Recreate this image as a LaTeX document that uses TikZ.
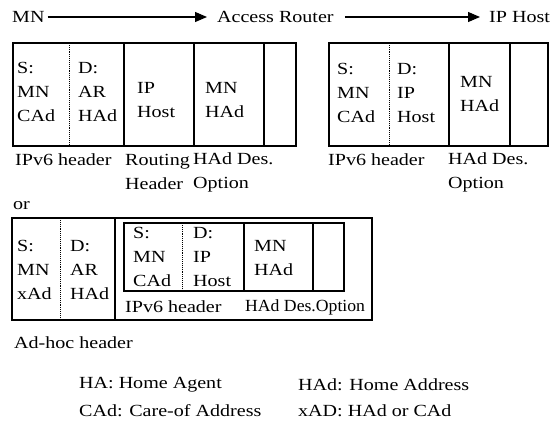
\documentclass[tikz,border=0pt]{standalone}
\usepackage{fontspec}
\setmainfont[FakeStretch=1.18]{Liberation Serif}
\newfontfamily\narrowfont[FakeStretch=1.04]{Liberation Serif}
\usetikzlibrary{arrows.meta, positioning}

\begin{document}
\begin{tikzpicture}[x=1pt, y=-1pt]
        \tikzset{textnode/.style={anchor=west,
                inner sep=0pt,
                align=left,
                font=\fontsize{17}{24}\selectfont
        }}
        \tikzset{frame/.style={line width=1.6pt}}
        \tikzset{dotdiv/.style={line width=0.9pt, densely dotted}}
        \tikzset{connector/.style={line width=1.1pt, -{Triangle[length=12pt,width=10pt]}}}
        \useasboundingbox (0,0) rectangle (551,422);

        % path of the packet
        \node[textnode] (mn) at (12,17) {MN};
        \node[textnode] (ar) at (217,17) {Access Router};
        \node[textnode] (iph) at (489,17) {IP Host};
        \draw[connector, shorten <=3pt, shorten >=10pt] (mn) -- (ar);
        \draw[connector, shorten <=11pt, shorten >=9pt] (ar) -- (iph);

        % packet sent by the MN
        \draw[frame] (13,43) rectangle (296,146);
        \draw[dotdiv] (69,43) -- (69,146);
        \foreach \x in {124,194,264} \draw[frame] (\x,43) -- (\x,146);
        \node[textnode] (srcA) at (17,92) {S:\\MN\\CAd};
        \node[textnode] (dstA) at (78,92) {D:\\AR\\HAd};
        \node[textnode] (rhA) at (137,100) {IP\\Host};
        \node[textnode] (hadA) at (205,100) {MN\\HAd};
        \node[textnode] (ipv6A) at (15,160) {IPv6 header};
        \node[textnode] (routA) at (125,172) {Routing\\Header};
        \node[textnode] (optA) at (193,172) {HAd Des.\\Option};

        % packet sent by the AR
        \draw[frame] (329,43) rectangle (548,146);
        \draw[dotdiv] (389,43) -- (389,146);
        \foreach \x in {449,510} \draw[frame] (\x,43) -- (\x,146);
        \node[textnode] (srcB) at (337,93) {S:\\MN\\CAd};
        \node[textnode] (dstB) at (397,93) {D:\\IP\\Host};
        \node[textnode] (hadB) at (460,94) {MN\\HAd};
        \node[textnode] (ipv6B) at (328,160) {IPv6 header};
        \node[textnode] (optB) at (448,172) {HAd Des.\\Option};

        \node[textnode] (or) at (13,206) {or};

        % ad-hoc packet
        \draw[frame] (12,218) rectangle (372,320);
        \draw[dotdiv] (60,218) -- (60,320);
        \draw[frame] (115,218) -- (115,320);
        \draw[frame] (124,223) rectangle (344,291);
        \draw[dotdiv] (182,223) -- (182,291);
        \foreach \x in {244,313} \draw[frame] (\x,223) -- (\x,291);
        \node[textnode] (srcC) at (17,270) {S:\\MN\\xAd};
        \node[textnode] (dstC) at (70,270) {D:\\AR\\HAd};
        \node[textnode] (srcD) at (133,257) {S:\\MN\\CAd};
        \node[textnode] (dstD) at (193,257) {D:\\IP\\Host};
        \node[textnode] (hadD) at (254,258) {MN\\HAd};
        \node[textnode] (ipv6D) at (125,307) {IPv6 header};
        \node[textnode, font=\fontsize{17}{24}\narrowfont] (optD) at (245,307) {HAd Des.Option};
        \node[textnode] (adhoc) at (14,343) {Ad-hoc header};

        % legend
        \node[textnode] (lgHA) at (79,385) {HA: Home Agent};
        \node[textnode] (lgCAd) at (79,411) {CAd: Care-of Address};
        \node[textnode] (lgHAd) at (298,385) {HAd: Home Address};
        \node[textnode] (lgxAD) at (298,411) {xAD: HAd or CAd};
\end{tikzpicture}
\end{document}
